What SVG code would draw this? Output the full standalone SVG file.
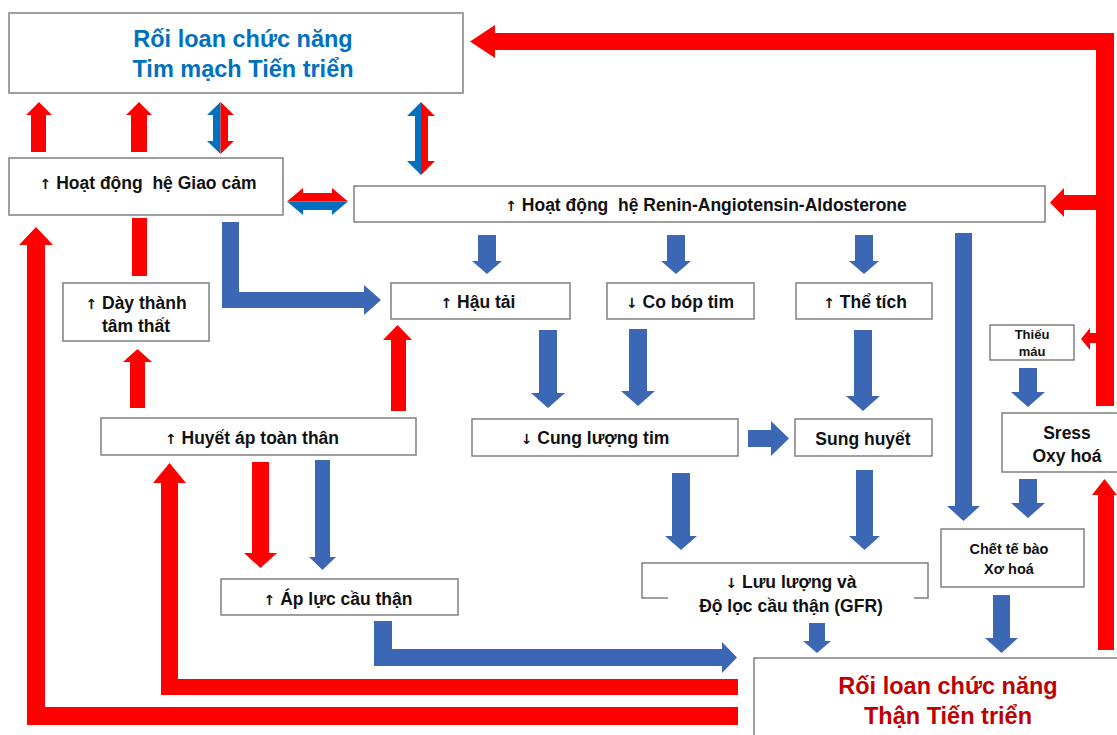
<svg xmlns="http://www.w3.org/2000/svg" width="1117" height="735" viewBox="0 0 1117 735">
<style>
.box{fill:#fff;stroke:#808080;stroke-width:1.5}
.t{font-family:"Liberation Sans",Arial,sans-serif;font-weight:bold;fill:#111;text-anchor:middle;white-space:pre}
.ar{font-family:"DejaVu Sans",sans-serif;font-weight:bold;font-size:14px;fill:#111}
.n{font-size:17.5px}
.s{font-size:14.5px}
.xs{font-size:13px}
.big{font-size:23.5px}
.red{fill:#FF0000}
.blu{fill:#3B67B5}
.bl2{fill:#0070C0}
</style>
<rect width="1117" height="735" fill="#fff"/>
<g id="connectors">
<!-- blue block arrows -->
<polygon class="blu" points="222,222 239,222 239,292 364,292 364,285 381,300 364,315 364,308 222,308"/>
<polygon class="blu" points="478,235 496,235 496,261 502,261 487,274 472,261 478,261"/>
<polygon class="blu" points="667,235 685,235 685,261 691,261 676,274 661,261 667,261"/>
<polygon class="blu" points="855,235 873,235 873,261 879,261 864,274 849,261 855,261"/>
<polygon class="blu" points="955,233 972,233 972,506 980,506 963.5,521 947,506 955,506"/>
<polygon class="blu" points="539,330 557,330 557,393 565,393 548,408 531,393 539,393"/>
<polygon class="blu" points="629,329 647,329 647,391 655,391 638,406 621,391 629,391"/>
<polygon class="blu" points="854,330 872,330 872,396 880,396 863,411 846,396 854,396"/>
<polygon class="blu" points="748,430 771,430 771,421 789,438.5 771,456 771,447 748,447"/>
<polygon class="blu" points="672,473 690,473 690,536 697,536 681,550 665,536 672,536"/>
<polygon class="blu" points="856,470 873,470 873,536 880,536 864.5,550 849,536 856,536"/>
<polygon class="blu" points="1019,368 1037,368 1037,392 1045,392 1028,407 1011,392 1019,392"/>
<polygon class="blu" points="1019,479 1037,479 1037,503 1045,503 1028,518 1011,503 1019,503"/>
<polygon class="blu" points="993,595 1010,595 1010,638 1018,638 1001.5,653 985,638 993,638"/>
<polygon class="blu" points="809,623 825,623 825,641 831,641 817,653 803,641 809,641"/>
<polygon class="blu" points="315,460 330,460 330,557 336,557 322.5,570 309,557 315,557"/>
<polygon class="blu" points="374,621 392,621 392,649 722,649 722,642 737,657.5 722,673 722,666 374,666"/>
<!-- red block arrows -->
<polygon class="red" points="31,152 46,152 46,115 52,115 39,102 26,115 31,115"/>
<polygon class="red" points="131,152 147,152 147,115 152,115 139,102 126,115 131,115"/>
<rect class="red" x="132" y="218" width="15" height="58"/>
<polygon class="red" points="130,408 145,408 145,362 152,362 137.5,349 123,362 130,362"/>
<polygon class="red" points="391,411 406,411 406,340 412,340 397.5,325 383,340 391,340"/>
<polygon class="red" points="252,462 269,462 269,553 277,553 260.5,568 244,553 252,553"/>
<polygon class="red" points="738,707 45,707 45,245 53,245 36,227 19,245 27,245 27,725 738,725"/>
<polygon class="red" points="738,679 178,679 178,483 186,483 169.5,463 153,483 161,483 161,695 738,695"/>
<polygon class="red" points="1114,406 1114,33 495,33 495,25 470,41.5 495,58 495,50 1096,50 1096,406"/>
<polygon class="red" points="1096,195 1064,195 1064,188 1050,202.5 1064,217 1064,210 1096,210"/>
<polygon class="red" points="1096,333 1090,333 1090,328 1081,339 1090,350 1090,343 1096,343"/>
<polygon class="red" points="1098,650 1114,650 1114,495 1117,495 1104.5,479 1092,495 1098,495"/>
<!-- bidirectional arrows -->
<polygon class="bl2" points="220.5,102 207,115 213,115 213,141 207,141 220.5,154"/>
<polygon class="red" points="220.5,102 234,115 228,115 228,141 234,141 220.5,154"/>
<polygon class="bl2" points="421,102 407,116 415,116 415,161 407,161 421,175"/>
<polygon class="red" points="421,102 435,116 428,116 428,161 435,161 421,175"/>
<polygon class="red" points="287,201.5 303,188 303,193 332,193 332,188 348,201.5"/>
<polygon class="bl2" points="287,201.5 303,215 303,210 332,210 332,215 348,201.5"/>
</g>
<g id="n-tim">
<rect class="box" x="9" y="13" width="454" height="80"/>
<text class="t big" x="243" y="47" style="fill:#0070C0">Rối loan chức năng</text>
<text class="t big" x="243" y="77" style="fill:#0070C0">Tim mạch Tiến triển</text>
</g>
<g id="n-giaocam">
<rect class="box" x="9" y="158" width="274" height="57"/>
<text class="t n" x="148" y="189"><tspan class="ar">↑</tspan> Hoạt động  hệ Giao cảm</text>
</g>
<g id="n-raas">
<rect class="box" x="354" y="186" width="691" height="36"/>
<text class="t n" x="706" y="211"><tspan class="ar">↑</tspan> Hoạt động  hệ Renin-Angiotensin-Aldosterone</text>
</g>
<g id="n-daythanh">
<rect class="box" x="63" y="283" width="146" height="58"/>
<text class="t n" x="136" y="309"><tspan class="ar">↑</tspan> Dày thành</text>
<text class="t n" x="136" y="332">tâm thất</text>
</g>
<g id="n-hautai">
<rect class="box" x="391" y="283" width="179" height="36"/>
<text class="t n" x="478" y="308"><tspan class="ar">↑</tspan> Hậu tải</text>
</g>
<g id="n-cobop">
<rect class="box" x="607" y="283" width="147" height="36"/>
<text class="t n" x="680" y="308"><tspan class="ar">↓</tspan> Co bóp tim</text>
</g>
<g id="n-thetich">
<rect class="box" x="796" y="283" width="136" height="36"/>
<text class="t n" x="865" y="308"><tspan class="ar">↑</tspan> Thể tích</text>
</g>
<g id="n-thieumau">
<rect class="box" x="990" y="325" width="84" height="35"/>
<text class="t xs" x="1032" y="339">Thiếu</text>
<text class="t xs" x="1032" y="356">máu</text>
</g>
<g id="n-huyetap">
<rect class="box" x="101" y="418" width="315" height="37"/>
<text class="t n" x="252" y="444"><tspan class="ar">↑</tspan> Huyết áp toàn thân</text>
</g>
<g id="n-cungluong">
<rect class="box" x="472" y="419" width="266" height="37"/>
<text class="t n" x="595" y="444"><tspan class="ar">↓</tspan> Cung lượng tim</text>
</g>
<g id="n-sunghuyet">
<rect class="box" x="795" y="419" width="137" height="37"/>
<text class="t n" x="863" y="445">Sung huyết</text>
</g>
<g id="n-sress">
<rect class="box" x="1002" y="413" width="125" height="59"/>
<text class="t" x="1067" y="439" style="font-size:17.5px">Sress</text>
<text class="t" x="1067" y="462" style="font-size:17.5px">Oxy hoá</text>
</g>
<g id="n-chet">
<rect class="box" x="941" y="529" width="143" height="58"/>
<text class="t s" x="1009" y="554">Chết tế bào</text>
<text class="t s" x="1009" y="574">Xơ hoá</text>
</g>
<g id="n-apluc">
<rect class="box" x="221" y="579" width="237" height="36"/>
<text class="t n" x="338" y="605"><tspan class="ar">↑</tspan> Áp lực cầu thận</text>
</g>
<g id="n-luuluong">
<rect class="box" x="642" y="563" width="286" height="35"/>
<rect x="668" y="596" width="246" height="20" fill="#fff"/>
<text class="t n" x="791" y="588"><tspan class="ar">↓</tspan> Lưu lượng và</text>
<text class="t n" x="791" y="612">Độ lọc cầu thận (GFR)</text>
</g>
<g id="n-than">
<rect class="box" x="754" y="658" width="380" height="90"/>
<text class="t big" x="948" y="694" style="fill:#C00000">Rối loan chức năng</text>
<text class="t big" x="948" y="724" style="fill:#C00000">Thận Tiến triển</text>
</g>
</svg>
